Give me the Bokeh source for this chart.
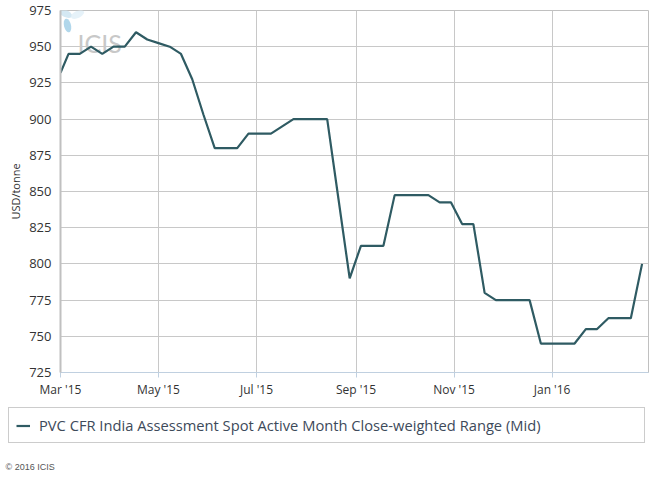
from datetime import datetime
import math
from bokeh.plotting import figure
from bokeh.layouts import column
from bokeh.models import (FixedTicker, Range1d, Label, PolyAnnotation, ColumnDataSource)
from bokeh.embed import file_html
from bokeh.resources import INLINE

# ---- data ----
dates = [
    "2015-03-01", "2015-03-06", "2015-03-13", "2015-03-20", "2015-03-27",
    "2015-04-03", "2015-04-10", "2015-04-17", "2015-04-24", "2015-05-01",
    "2015-05-08", "2015-05-15", "2015-05-22", "2015-05-29", "2015-06-05",
    "2015-06-12", "2015-06-19", "2015-06-26", "2015-07-03", "2015-07-10",
    "2015-07-17", "2015-07-24", "2015-07-31", "2015-08-07", "2015-08-14",
    "2015-08-21", "2015-08-28", "2015-09-04", "2015-09-11", "2015-09-18",
    "2015-09-25", "2015-10-02", "2015-10-09", "2015-10-16", "2015-10-23",
    "2015-10-30", "2015-11-06", "2015-11-13", "2015-11-20", "2015-11-27",
    "2015-12-04", "2015-12-11", "2015-12-18", "2015-12-25", "2016-01-01",
    "2016-01-08", "2016-01-15", "2016-01-22", "2016-01-29", "2016-02-05",
    "2016-02-12", "2016-02-19", "2016-02-26",
]
values = [
    932, 945, 945, 950, 945,
    950, 950, 960, 955, 952.5,
    950, 945, 927.5, 903, 880,
    880, 880, 890, 890, 890,
    895, 900, 900, 900, 900,
    845, 790, 812.5, 812.5, 812.5,
    847.5, 847.5, 847.5, 847.5, 842.5,
    842.5, 827.5, 827.5, 780, 775,
    775, 775, 775, 745, 745,
    745, 745, 755, 755, 762.5,
    762.5, 762.5, 800,
]
tick_dates = ["2015-03-01", "2015-05-01", "2015-07-01", "2015-09-01", "2015-11-01", "2016-01-01"]
tick_labels = ["Mar '15", "May '15", "Jul '15", "Sep '15", "Nov '15", "Jan '16"]
y_ticks = [725, 750, 775, 800, 825, 850, 875, 900, 925, 950, 975]
series_name = "PVC CFR India Assessment Spot Active Month Close-weighted Range (Mid)"
y_title = "USD/tonne"
x_start, x_end = "2015-03-01", "2016-03-01"
LINE_COLOR = "#2f5b63"


def ms(s):
    return (datetime.strptime(s, "%Y-%m-%d") - datetime(1970, 1, 1)).total_seconds() * 1000.0


src = ColumnDataSource(dict(x=[datetime.strptime(d, "%Y-%m-%d") for d in dates], y=values))

p = figure(width=668, height=400, x_axis_type="datetime", output_backend="svg",
           toolbar_location=None, min_border_left=60, min_border_right=20,
           min_border_top=10, min_border_bottom=25,
           x_range=Range1d(ms(x_start), ms(x_end)), y_range=Range1d(725, 975))
p.background_fill_color = "white"
p.border_fill_color = "white"
p.outline_line_color = "#c0c0c0"
p.outline_line_width = 1

# ICIS watermark (drawn under the line)
def petal(cx, cy, a, b, ang, n=24):
    xs, ys = [], []
    for i in range(n):
        t = 2 * math.pi * i / n
        ex, ey = a * math.cos(t), b * math.sin(t)
        xs.append(cx + ex * math.cos(ang) - ey * math.sin(ang) - 60)
        ys.append(375 - (cy + ex * math.sin(ang) + ey * math.cos(ang)))
    return xs, ys

for (cx, cy, a, b, ang, col) in [(65, 16, 7, 3.5, 0.45, "#cfe6f2"), (77, 17, 7, 3.5, -0.45, "#e3f1f8"),
                                 (67, 28, 7, 3.5, 1.35, "#a9d3e9")]:
    xs, ys = petal(cx, cy, a, b, ang)
    p.add_layout(PolyAnnotation(xs=xs, ys=ys, xs_units="screen", ys_units="screen",
                                fill_color=col, fill_alpha=0.9, line_color=None, level="underlay"))
p.add_layout(Label(x=17, y=330, x_units="screen", y_units="screen", text="ICIS",
                   text_font="Lato", text_font_size="25px", text_color="#c8c8c8",
                   text_baseline="alphabetic", level="underlay"))

p.line("x", "y", source=src, line_color=LINE_COLOR, line_width=2.2)

# axes
tick_ms = [ms(d) for d in tick_dates]
p.xaxis.ticker = FixedTicker(ticks=tick_ms)
p.xaxis.major_label_overrides = {t: l for t, l in zip(tick_ms, tick_labels)}
p.xaxis.axis_line_color = "#c0d0e0"
p.xaxis.major_tick_line_color = "#c0d0e0"
p.xaxis.major_tick_out = 5
p.xaxis.major_tick_in = 0
p.xaxis.minor_tick_line_color = None
p.xaxis.major_label_text_font = "Open Sans"
p.xaxis.major_label_text_font_size = "12px"
p.xaxis.major_label_text_color = "#333333"
p.xaxis.major_label_standoff = 3

p.yaxis.ticker = FixedTicker(ticks=y_ticks)
p.yaxis.axis_line_color = "#c0c0c0"
p.yaxis.axis_line_width = 2
p.yaxis.major_tick_line_color = None
p.yaxis.minor_tick_line_color = None
p.yaxis.major_label_text_font = "Open Sans"
p.yaxis.major_label_text_font_size = "13px"
p.yaxis.major_label_text_color = "#333333"
p.yaxis.major_label_standoff = 3
p.yaxis.axis_label = y_title
p.yaxis.axis_label_text_font = "Open Sans"
p.yaxis.axis_label_text_font_size = "11px"
p.yaxis.axis_label_text_font_style = "normal"
p.yaxis.axis_label_text_color = "#333333"
p.yaxis.axis_label_standoff = 3

p.xgrid.grid_line_color = "#c8c8c8"
p.ygrid.grid_line_color = "#c8c8c8"

# ---- legend / footer panel ----
p2 = figure(width=668, height=78, output_backend="svg", toolbar_location=None,
            min_border=0, x_range=Range1d(0, 668), y_range=Range1d(0, 78))
p2.frame_align = False
p2.axis.visible = False
p2.grid.visible = False
p2.outline_line_color = None
p2.background_fill_color = "white"
p2.border_fill_color = "white"
# same series, drawn off-range: only feeds the legend entry
p2.line("x", "y", source=src, line_color=LINE_COLOR, line_width=2.2, legend_label=series_name)

lg = p2.legend[0]
lg.location = (8, 35)
lg.padding = 7
lg.spacing = 0
lg.margin = 0
lg.glyph_width = 14
lg.glyph_height = 17
lg.label_height = 17
lg.label_standoff = 9
lg.label_width = 598
lg.label_text_font = "Open Sans"
lg.label_text_font_size = "14.7px"
lg.label_text_color = "#3d4a5a"
lg.border_line_color = "#999999"
lg.border_line_width = 1
lg.background_fill_color = "white"
lg.background_fill_alpha = 1

p2.add_layout(Label(x=5, y=12, x_units="screen", y_units="screen", text="\u00a9 2016 ICIS",
                    text_font="Liberation Sans", text_font_size="9px", text_color="#555555",
                    text_baseline="alphabetic"))

layout = column(p, p2, spacing=0)
open("out.html", "w").write(file_html(layout, INLINE))
